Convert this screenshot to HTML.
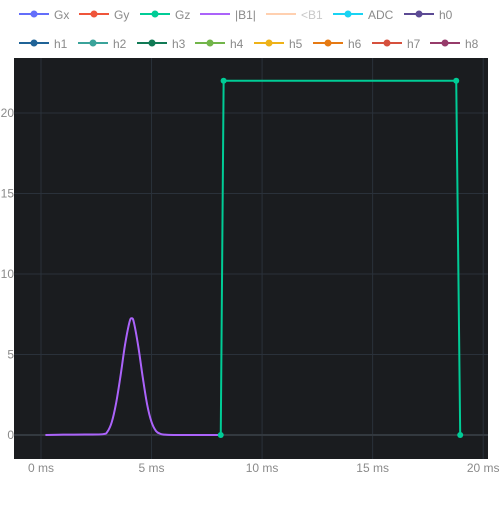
<!DOCTYPE html>
<html><head><meta charset="utf-8"><style>
body{margin:0;background:#fff;font-family:"Liberation Sans",sans-serif}
svg text{font-family:"Liberation Sans",sans-serif;font-size:12px;fill:#8a8a8a}
</style></head><body>
<svg id="c" width="500" height="500">
<rect x="14" y="58" width="474" height="401" fill="#1a1c1f"/>
<g id="grid"></g><g id="ticks"></g><g id="series"></g><g id="legend"></g>
</svg>
<script>
const gzTimes=[8.13,8.26,18.78,18.96];
const gzValues=[0,22,22,0];
const b1Times=[0.2,1,2,2.8,3.0,3.2,3.4,3.6,3.8,4.0,4.1,4.2,4.4,4.6,4.8,5.0,5.2,5.4,5.6,6,7,8.13];
const b1Values=[0,0.02,0.03,0.05,0.2,0.8,2.0,3.7,5.6,7.0,7.25,7.0,5.5,3.6,1.9,0.8,0.25,0.07,0.02,0,0,0];
const xTicks=[0,5,10,15,20];
const yTicks=[0,5,10,15,20];
const legendRow1=["Gx","Gy","Gz","|B1|","<B1","ADC","h0"];
const legendRow2=["h1","h2","h3","h4","h5","h6","h7","h8"];
const colors1=["#636efa","#ef553b","#00cc96","#ab63fa","#ffd0b0","#19d3f3","#5c4a94"];
const colors2=["#1f6397","#3aa39a","#117a55","#72b54a","#eeb218","#e67a13","#d6503d","#963b6a"];
const xs=t=>41+t*22.11, ys=v=>435-v*16.1;
const NS="http://www.w3.org/2000/svg";
function mk(tag,attrs,parent){const e=document.createElementNS(NS,tag);for(const k in attrs)e.setAttribute(k,attrs[k]);document.getElementById(parent).appendChild(e);return e;}
xTicks.forEach(t=>{
 const l=mk('line',{x1:xs(t),x2:xs(t),y1:58,y2:459,stroke:'#2a313a','stroke-width':1},'grid');
 
 
 const tx=mk('text',{x:xs(t),y:472,'text-anchor':'middle'},'ticks');tx.textContent=t+' ms';
 
 
});
yTicks.forEach(v=>{
 const l=mk('line',{x1:14,x2:488,y1:ys(v),y2:ys(v),stroke:v===0?'#33393f':'#2a313a','stroke-width':v===0?2:1},'grid');
 
 
 const tx=mk('text',{x:14,y:ys(v)+4,'text-anchor':'end'},'ticks');tx.textContent=v;
 
 
});
const P=b1Times.map((t,i)=>[xs(t),ys(b1Values[i])]);
let d='M'+P[0][0]+','+P[0][1];
for(let i=0;i<P.length-1;i++){const p0=P[Math.max(0,i-1)],p1=P[i],p2=P[i+1],p3=P[Math.min(P.length-1,i+2)];
 const c1=[p1[0]+(p2[0]-p0[0])/6,p1[1]+(p2[1]-p0[1])/6],c2=[p2[0]-(p3[0]-p1[0])/6,p2[1]-(p3[1]-p1[1])/6];
 d+=` C${c1[0]},${c1[1]} ${c2[0]},${c2[1]} ${p2[0]},${p2[1]}`;}
const b1=mk('path',{d:d,fill:'none',stroke:'#ab63fa','stroke-width':2,'stroke-linejoin':'round'},'series');


const gz=mk('polyline',{points:gzTimes.map((t,i)=>xs(t)+','+ys(gzValues[i])).join(' '),fill:'none',stroke:'#00cc96','stroke-width':2},'series');


gzTimes.forEach((t,i)=>{const c=mk('circle',{cx:xs(t),cy:ys(gzValues[i]),r:3,fill:'#00cc96'},'series');
 
 });
function legend(names,cols,starts,y){names.forEach((n,i)=>{const x=starts[i];
 const g=mk('g',{},'legend');
 
 
 const ln=document.createElementNS(NS,'line');[['x1',x],['x2',x+30],['y1',y],['y2',y],['stroke',cols[i]],['stroke-width',2]].forEach(a=>ln.setAttribute(a[0],a[1]));g.appendChild(ln);
 if(n!=="|B1|"&&n!=="<B1"){const c=document.createElementNS(NS,'circle');[['cx',x+15],['cy',y],['r',3.5],['fill',cols[i]]].forEach(a=>c.setAttribute(a[0],a[1]));g.appendChild(c);}
 const t=document.createElementNS(NS,'text');t.setAttribute('x',x+35);t.setAttribute('y',y+5);t.textContent=n;if(n==="<B1")t.setAttribute('style','fill:#c8c8c8');g.appendChild(t);});}
legend(legendRow1,colors1,[19,79,140,200,266,333,404],14);
legend(legendRow2,colors2,[19,78,137,195,254,313,372,430],43);
</script>
</body></html>
